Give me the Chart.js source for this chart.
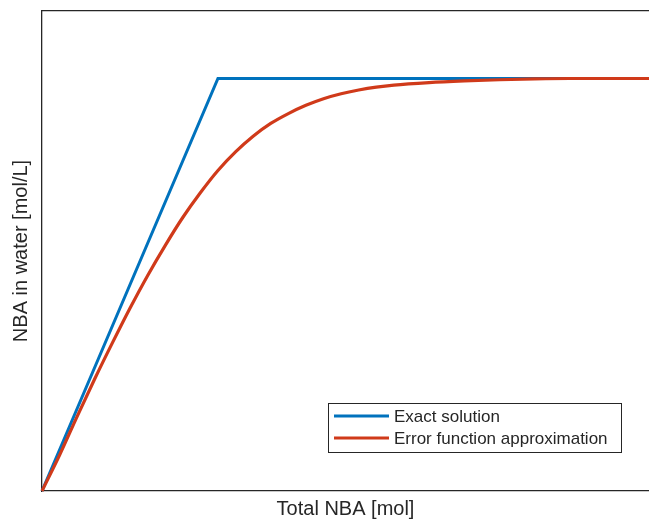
<!DOCTYPE html>
<html>
<head>
<meta charset="utf-8">
<script src="https://cdn.jsdelivr.net/npm/chart.js@4"></script>
<style>
html,body{margin:0;padding:0;background:#fff;overflow:hidden;}
#wrap{width:649px;height:519px;position:relative;}
</style>
</head>
<body>
<div id="wrap"><canvas id="c" width="649" height="519"></canvas></div>
<script>
// Data (units normalised so that the kink is at x=1, plateau at y=1)
const seriesLabels = ["Exact solution", "Error function approximation"];
const exactX = [0, 1, 3.45];
const exactY = [0, 1, 1];
const approxX = [0, 0.1, 0.2, 0.3, 0.4, 0.5, 0.6, 0.7, 0.8, 0.9, 1.0, 1.1, 1.2, 1.3, 1.4, 1.5, 1.6, 1.7, 1.8, 1.9, 2.0, 2.2, 2.4, 2.6, 2.8, 3.0, 3.45];
const approxY = [0, 0.087, 0.181, 0.272, 0.359, 0.443, 0.522, 0.595, 0.663, 0.723, 0.777, 0.822, 0.860, 0.891, 0.915, 0.935, 0.951, 0.963, 0.972, 0.979, 0.984, 0.990, 0.994, 0.997, 0.999, 1.0, 1.0];
const xRange = [0, 3.45];
const yRange = [0, 1.1636];

const toPts = (xs, ys) => xs.map((x, i) => ({x: x, y: ys[i]}));

const FONT = "'Liberation Sans', Arial, Helvetica, sans-serif";

const boxLegend = {
  id: 'boxLegend',
  afterDraw(chart) {
    const ctx = chart.ctx, a = chart.chartArea;
    const right = a.right - 28, bottom = a.bottom - 39;
    const w = 293, h = 49;
    const left = right - w, top = bottom - h;
    ctx.save();
    ctx.fillStyle = '#fff';
    ctx.fillRect(left, top, w, h);
    ctx.strokeStyle = '#262626';
    ctx.lineWidth = 1;
    ctx.strokeRect(left + 0.5, top + 0.5, w, h);
    ctx.font = "17px " + FONT;
    ctx.textBaseline = 'middle';
    [0, 1].forEach((row) => {
      const ds = chart.data.datasets.find(d => d.label === seriesLabels[row]);
      const y = top + 13 + row * 22;
      ctx.strokeStyle = ds.borderColor;
      ctx.lineWidth = 3;
      ctx.beginPath();
      ctx.moveTo(left + 6, y);
      ctx.lineTo(left + 61, y);
      ctx.stroke();
      ctx.fillStyle = '#262626';
      ctx.fillText(ds.label, left + 66, y + 1);
    });
    ctx.restore();
  }
};

new Chart(document.getElementById('c'), {
  type: 'line',
  data: {
    datasets: [
      {
        label: seriesLabels[0],
        data: toPts(exactX, exactY),
        borderColor: '#0072BD',
        borderWidth: 3,
        pointRadius: 0,
        tension: 0,
        clip: 4,
        order: 2
      },
      {
        label: seriesLabels[1],
        data: toPts(approxX, approxY),
        borderColor: '#D03A1A',
        borderWidth: 3.2,
        pointRadius: 0,
        cubicInterpolationMode: 'monotone',
        clip: 4,
        order: 1
      }
    ]
  },
  options: {
    responsive: false,
    animation: false,
    devicePixelRatio: 1,
    layout: {padding: {left: 5, right: 0, top: 11, bottom: 0}},
    plugins: {legend: {display: false}, tooltip: {enabled: false}},
    scales: {
      x: {
        type: 'linear', min: xRange[0], max: xRange[1],
        grid: {display: false, drawTicks: false},
        border: {display: true, color: '#262626', width: 1.3},
        ticks: {display: false},
        title: {display: true, text: 'Total NBA [mol]', color: '#262626', font: {family: FONT, size: 20, lineHeight: 1}, padding: {top: 8, bottom: 0}}
      },
      x2: {
        type: 'linear', position: 'top', min: xRange[0], max: xRange[1],
        grid: {display: false, drawTicks: false},
        border: {display: true, color: '#262626', width: 1.3},
        ticks: {display: false}
      },
      y: {
        type: 'linear', min: yRange[0], max: yRange[1],
        grid: {display: false, drawTicks: false},
        border: {display: true, color: '#262626', width: 1.3},
        ticks: {display: false},
        title: {display: true, text: 'NBA in water [mol/L]', color: '#262626', font: {family: FONT, size: 20, lineHeight: 1.2}, padding: {top: 4, bottom: 9}}
      }
    }
  },
  plugins: [boxLegend]
});
</script>
</body>
</html>
